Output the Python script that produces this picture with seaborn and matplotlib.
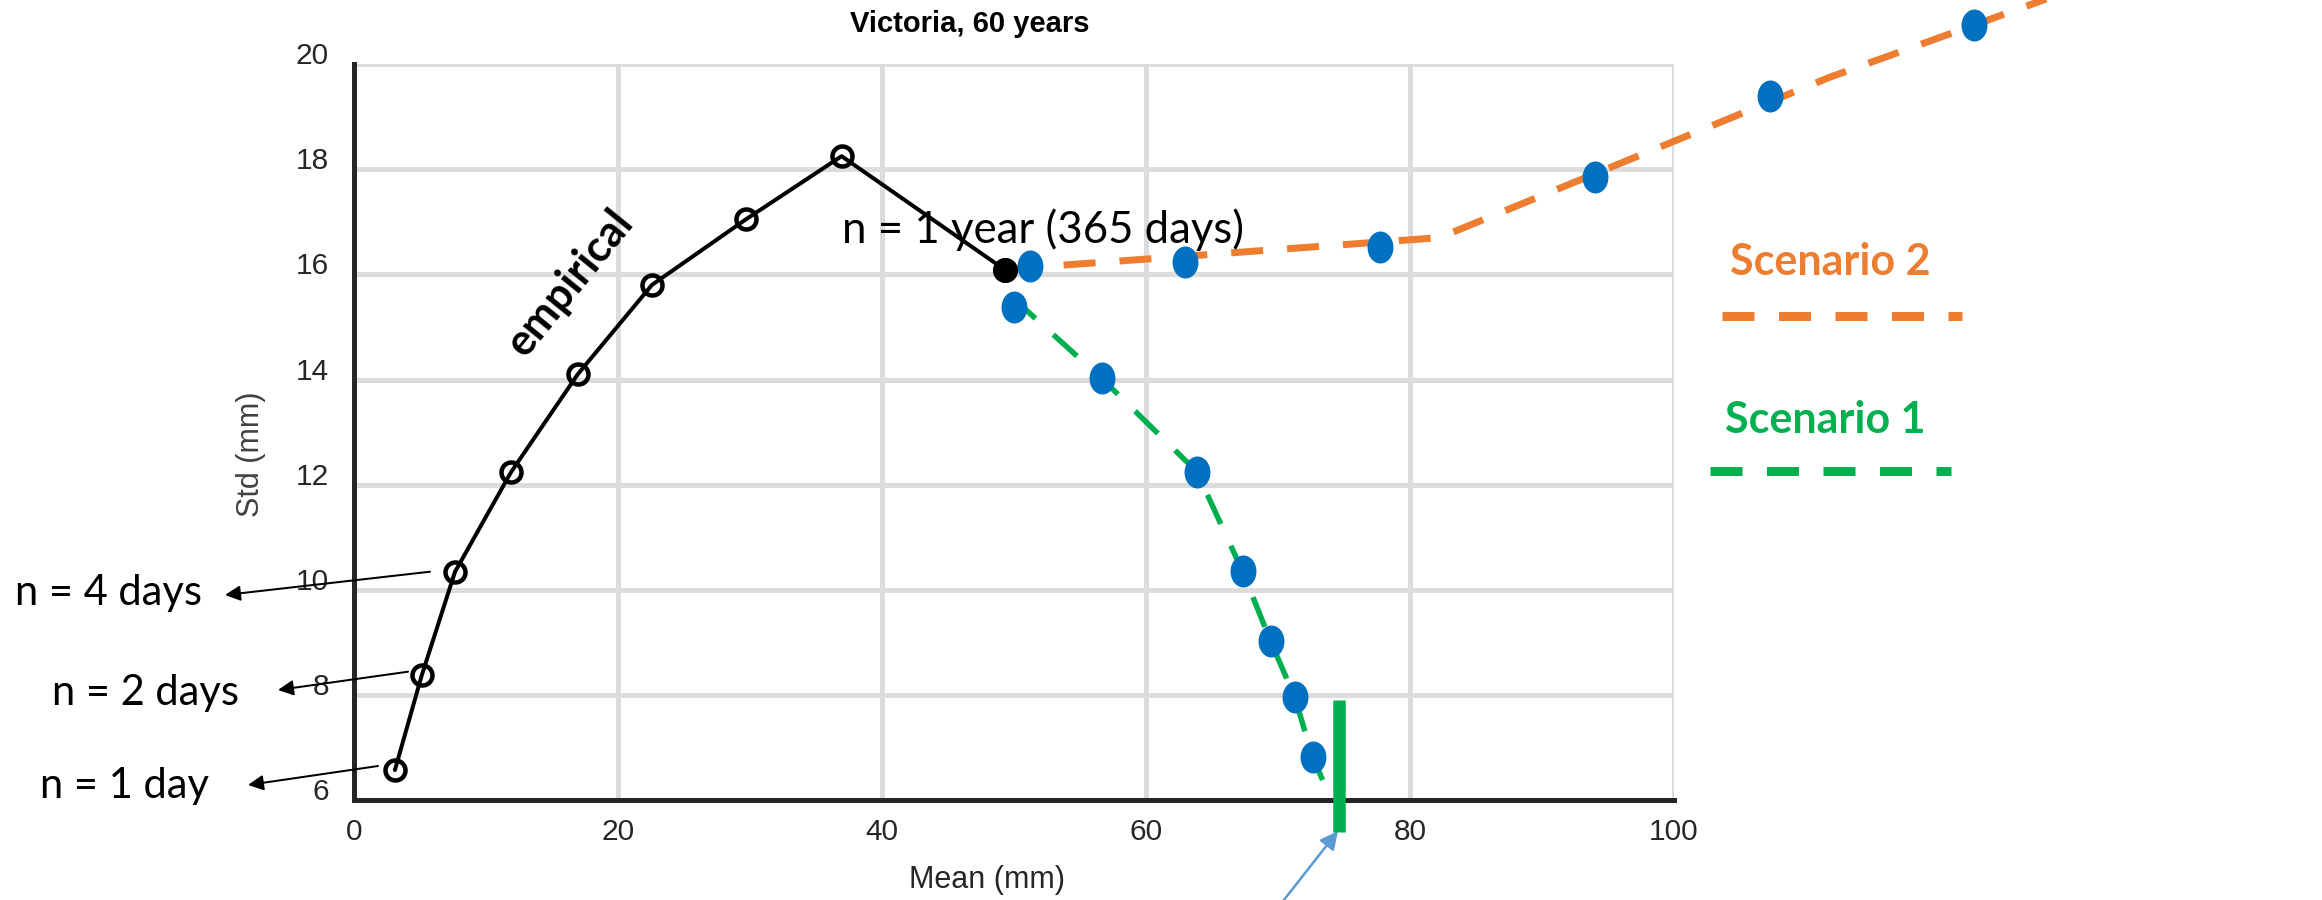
import numpy as np
import pandas as pd
import matplotlib
matplotlib.use("Agg")
import matplotlib.pyplot as plt
import seaborn as sns
from matplotlib.path import Path

# ---------------- data ----------------
emp_mean = [3.10, 5.13, 7.65, 11.90, 16.95, 22.57, 29.70, 36.94, 49.30]
emp_std = [6.57, 8.37, 10.34, 12.24, 14.10, 15.80, 17.05, 18.25, 16.09]

year_mean = [49.30]
year_std = [16.09]

s1_mean = [49.98, 56.65, 63.84, 67.32, 69.44, 71.26, 72.62]
s1_std = [15.38, 14.02, 12.25, 10.35, 9.02, 7.96, 6.82]
s1_line_mean = [49.83, 56.65, 63.84, 67.32, 69.44, 71.26, 72.62, 73.38]
s1_line_std = [15.57, 14.02, 12.25, 10.35, 9.02, 7.96, 6.82, 6.38]

s2_mean = [51.19, 62.93, 77.72, 94.03, 107.25, 122.76]
s2_std = [16.16, 16.24, 16.52, 17.85, 19.39, 20.75]
s2_line_mean = [49.53, 82.24, 111.78, 129.95]
s2_line_std = [16.10, 16.70, 19.75, 21.40]

limit_mean = [74.59, 74.59]
limit_std = [7.91, 5.40]

x_ticks = [0, 20, 40, 60, 80, 100]
y_ticks = [6, 8, 10, 12, 14, 16, 18, 20]

title = "Victoria, 60 years"
x_label = "Mean (mm)"
y_label = "Std (mm)"
n_labels = ["n = 4 days", "n = 2 days", "n = 1 day"]
year_label = "n = 1 year (365 days)"
emp_label = "empirical"
scen_labels = ["Scenario 2", "Scenario 1"]

# ---------------- style ----------------
W, H, DPI = 2322, 900, 100
PX = 72.0 / DPI  # points per pixel
ORANGE = "#ED7D31"
GREEN = "#00B050"
BLUE = "#0070C0"
ARROW_BLUE = "#5B9BD5"
DARK = "#262626"

sns.set_style("white")
plt.rcParams["font.family"] = ["Liberation Sans", "DejaVu Sans"]
plt.rcParams["lines.scale_dashes"] = False

fig = plt.figure(figsize=(W / DPI, H / DPI), dpi=DPI)
ax = fig.add_axes([354 / W, 1 - 800 / H, 1320 / W, (800 - 64.2) / H])


def F(x, y):
    return (x / W, 1 - y / H)


ax.set_xlim(0, 100)
ax.set_ylim(6, 20)
ax.set_xticks(x_ticks)
ax.set_yticks(y_ticks)
ax.grid(True, color="#dcdcdc", linewidth=5 * PX)
ax.set_axisbelow(True)
for s in ["top", "right"]:
    ax.spines[s].set_visible(False)
for s in ["left", "bottom"]:
    ax.spines[s].set_color(DARK)
    ax.spines[s].set_linewidth(5 * PX)
ax.tick_params(axis="both", direction="in", color=DARK, width=5 * PX,
               length=15 * PX, labelsize=21.5, labelcolor=DARK)
ax.tick_params(axis="y", pad=18)
ax.tick_params(axis="x", pad=13)
plt.setp(ax.get_yticklabels(), va="baseline")

ax.set_xlabel(x_label, fontsize=22, color=DARK)
ax.xaxis.label.set_va("center")
ax.xaxis.set_label_coords((987 - 354) / 1320, (800 - 880) / (800 - 64.2))
ax.set_ylabel(y_label, fontsize=22, color="#404040")
ax.yaxis.label.set_va("center")
ax.yaxis.set_label_coords((251 - 354) / 1320, (800 - 454) / (800 - 64.2))

# ---------------- marks ----------------
emp_df = pd.DataFrame({"mean": emp_mean, "std": emp_std})
sns.lineplot(data=emp_df, x="mean", y="std", sort=False, estimator=None,
             color="black", linewidth=4 * PX, marker="o",
             markersize=20 * PX, markerfacecolor="none",
             markeredgecolor="black", markeredgewidth=4.5 * PX,
             ax=ax, zorder=3)
sns.scatterplot(x=year_mean, y=year_std, color="black", s=(25 * PX) ** 2,
                linewidth=0, ax=ax, zorder=6)

sns.lineplot(x=s2_line_mean, y=s2_line_std, sort=False, estimator=None,
             color=ORANGE, linewidth=7 * PX, ax=ax, clip_on=False, zorder=4)
ax.lines[-1].set_dashes([32 * PX, 24 * PX])
sns.lineplot(x=s1_line_mean, y=s1_line_std, sort=False, estimator=None,
             color=GREEN, linewidth=5.5 * PX, ax=ax, clip_on=False, zorder=4)
ax.lines[-1].set_dashes([32 * PX, 24 * PX])
sns.lineplot(x=limit_mean, y=limit_std, sort=False, estimator=None,
             color=GREEN, linewidth=12.5 * PX, ax=ax, clip_on=False, zorder=4)
ax.lines[-1].set_solid_capstyle("butt")

circ = Path.unit_circle()
ELL = Path(circ.vertices * np.array([0.81, 1.0]), circ.codes)
for mx, my in [(s1_mean, s1_std), (s2_mean, s2_std)]:
    sns.scatterplot(x=mx, y=my, marker=ELL, s=(32 * PX) ** 2, color=BLUE,
                    linewidth=0, ax=ax, clip_on=False, zorder=5)

# ---------------- annotations ----------------
ANN = ["Lato", "DejaVu Sans"]
fig.text(*F(970, 32), title, ha="center", va="baseline", fontsize=21,
         fontweight="bold", color="black")

fig.text(*F(842, 243), year_label, ha="left", va="baseline", fontsize=31.5,
         family=ANN, color="black", zorder=2)
fig.text(*F(570, 283), emp_label, ha="center", va="center", rotation=51,
         rotation_mode="anchor", fontsize=31, fontweight="bold", family=ANN,
         color="black")

label_pos = [(15, 605), (52, 705), (40, 798)]
arrow_pos = [((430, 571.7), (225, 595)), ((408, 671.7), (278, 690)),
             ((378, 766), (248, 785))]
for lab, (tx, ty), (start, end) in zip(n_labels, label_pos, arrow_pos):
    fig.text(*F(tx, ty), lab, ha="left", va="baseline", fontsize=30,
             family=ANN, color="black")
    ax.annotate("", xy=F(*end), xytext=F(*start), xycoords="figure fraction",
                textcoords="figure fraction",
                arrowprops=dict(arrowstyle="-|>", color="black", lw=2 * PX,
                                mutation_scale=23, shrinkA=0, shrinkB=0))

ax.annotate("", xy=F(1338, 831), xytext=F(1280, 905), xycoords="figure fraction",
            textcoords="figure fraction",
            arrowprops=dict(arrowstyle="-|>", color=ARROW_BLUE, lw=2.5 * PX,
                            mutation_scale=27, shrinkA=0, shrinkB=0))

# scenario "legend"
scen_colors = [ORANGE, GREEN]
scen_text_pos = [(1730, 275), (1725, 433)]
scen_line_pos = [((1722, 1962), 315.5), ((1710, 1951), 471)]
for lab, col, (tx, ty), ((x0, x1), ly) in zip(scen_labels, scen_colors,
                                              scen_text_pos, scen_line_pos):
    fig.text(*F(tx, ty), lab, ha="left", va="baseline", fontsize=31,
             fontweight="bold", family=ANN, color=col)
    ln = plt.Line2D([x0 / W, x1 / W], [1 - ly / H, 1 - ly / H],
                    transform=fig.transFigure, color=col, linewidth=9 * PX,
                    solid_capstyle="butt", dash_capstyle="butt")
    ln.set_dashes([32 * PX, 24.5 * PX])
    fig.add_artist(ln)

fig.savefig("out.png", dpi=DPI)
